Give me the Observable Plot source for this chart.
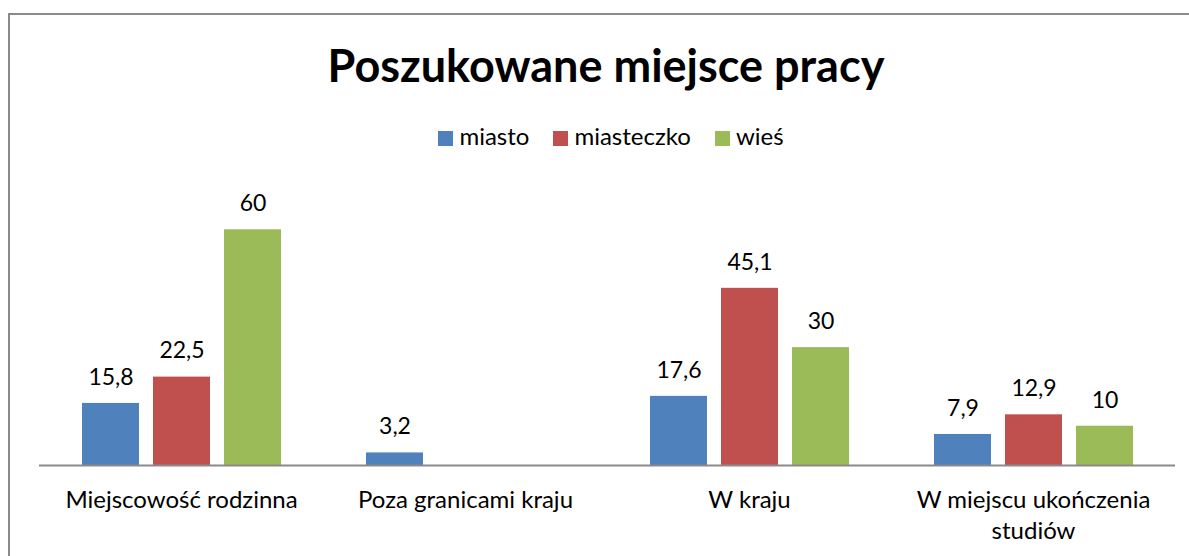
<!DOCTYPE html>
<html>
<head>
<meta charset="utf-8">
<script src="https://cdn.jsdelivr.net/npm/d3@7"></script>
<script src="https://cdn.jsdelivr.net/npm/@observablehq/plot@0.6"></script>
<style>
  html, body { margin: 0; padding: 0; background: #fff; overflow: hidden; }
  body { width: 1189px; height: 556px; position: relative; font-family: Lato, "Open Sans", sans-serif; }
  #frame { position: absolute; left: 8px; top: 13px; width: 1300px; height: 700px;
           border-left: 2px solid #8a8a8a; border-top: 2px solid #8a8a8a; }
  #title { position: absolute; left: 0; width: 1212px; top: 38px; text-align: center;
           font-weight: bold; font-size: 45px; color: #000; }
  #legend { position: absolute; left: 0; width: 1222px; top: 121px; text-align: center;
            font-size: 24px; color: #000; }
  #legend span.item { margin: 0 12px; white-space: nowrap; }
  #legend span.sw { display: inline-block; width: 15px; height: 15px; margin-right: 6px; vertical-align: -1px; }
  #chart { position: absolute; left: 0; top: 0; }
</style>
</head>
<body>
<div id="frame"></div>
<div id="chart"></div>
<div id="title">Poszukowane miejsce pracy</div>
<div id="legend"></div>
<script>
const categories = ["Miejscowość rodzinna", "Poza granicami kraju", "W kraju", "W miejscu ukończenia studiów"];
const series = ["miasto", "miasteczko", "wieś"];
const colors = ["#4F81BD", "#C0504D", "#9BBB59"];
const miasto = [15.8, 3.2, 17.6, 7.9];
const miasteczko = [22.5, null, 45.1, 12.9];
const wies = [60, null, 30, 10];
const categoryLabels = ["Miejscowość rodzinna", "Poza granicami kraju", "W kraju", "W miejscu ukończenia\nstudiów"];

const valuesBySeries = [miasto, miasteczko, wies];
const data = [];
categories.forEach((c, i) => {
  series.forEach((s, j) => {
    const v = valuesBySeries[j][i];
    if (v != null) data.push({category: c, series: s, value: v});
  });
});

const fmt = v => String(v).replace(".", ",");

const plot = Plot.plot({
  width: 1189,
  height: 556,
  marginLeft: 38,
  marginRight: 14,
  marginTop: 190,
  marginBottom: 91,
  style: {fontFamily: "Lato, 'Open Sans', sans-serif", fontSize: "23px", color: "#000", background: "transparent"},
  fx: {domain: categories, padding: 0, label: null},
  x: {domain: series, paddingInner: 0.2, paddingOuter: 0.6, axis: null},
  y: {domain: [0, 70], axis: null},
  color: {domain: series, range: colors},
  marks: [
    Plot.barY(data, {fx: "category", x: "series", y: "value", fill: "series"}),
    Plot.text(data, {fx: "category", x: "series", y: "value", text: d => fmt(d.value),
                     dy: -26, fontSize: 23, fill: "#000"}),
    Plot.ruleY([0], {stroke: "#8a8a8a", strokeWidth: 2}),
    Plot.axisFx({anchor: "bottom", label: null, tickSize: 0, tickPadding: 20, fontSize: 24,
                 lineHeight: 1.3, fill: "#000",
                 tickFormat: c => categoryLabels[categories.indexOf(c)]})
  ]
});
document.getElementById("chart").appendChild(plot);

const legend = document.getElementById("legend");
series.forEach((s, i) => {
  const item = document.createElement("span");
  item.className = "item";
  const sw = document.createElement("span");
  sw.className = "sw";
  sw.style.background = colors[i];
  item.appendChild(sw);
  item.appendChild(document.createTextNode(s));
  legend.appendChild(item);
});
</script>
</body>
</html>
